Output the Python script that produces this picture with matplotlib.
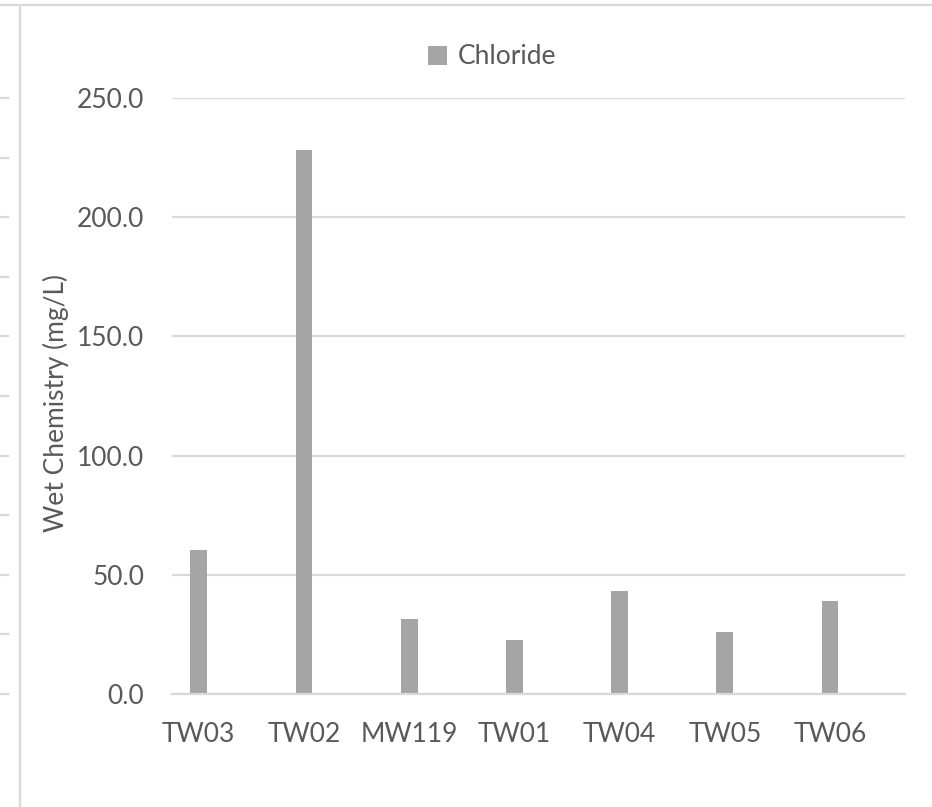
import matplotlib
matplotlib.use("Agg")
import matplotlib.pyplot as plt
from matplotlib.lines import Line2D

# Data
categories = ["TW03", "TW02", "MW119", "TW01", "TW04", "TW05", "TW06"]
chloride = [60.3, 228.1, 31.3, 22.7, 43.1, 25.9, 38.9]
yticks = [0, 50, 100, 150, 200, 250]
series_name = "Chloride"
ylabel = "Wet Chemistry (mg/L)"

plt.rcParams['font.family'] = ['Lato', 'DejaVu Sans']
text_color = "#595959"
grid_color = "#d9d9d9"
bar_color = "#a5a5a5"
fs = 19

W, H = 932, 807
fig = plt.figure(figsize=(W / 100, H / 100), dpi=100)
fig.patch.set_facecolor("white")

left, right, bottom, top = 172 / W, 905 / W, 1 - 694 / H, 1 - 98 / H
ax = fig.add_axes([left, bottom, right - left, top - bottom])

x = list(range(len(categories)))
ax.bar(x, chloride, width=0.16, color=bar_color, label=series_name, zorder=3)

ax.set_xlim(-0.254, len(categories) - 1 + 0.713)
ax.set_ylim(0, 250)
ax.set_yticks(yticks)
ax.set_yticklabels([f"{v:.1f}" for v in yticks])
ax.set_xticks(x)
ax.set_xticklabels(categories)

ax.grid(axis="y", color=grid_color, linewidth=1.6, zorder=0)
ax.set_axisbelow(True)
for s in ["top", "right", "left"]:
    ax.spines[s].set_visible(False)
ax.spines["bottom"].set_color(grid_color)
ax.spines["bottom"].set_linewidth(1.6)
ax.spines["bottom"].set_zorder(4)

ax.tick_params(axis="both", length=0, labelsize=fs, labelcolor=text_color)
ax.tick_params(axis="y", pad=20)
ax.tick_params(axis="x", pad=20)

fig.text(56 / W, 1 - 403 / H, ylabel, rotation=90, ha="center", va="center",
         fontsize=fs, color=text_color)

leg = fig.legend(loc="center", bbox_to_anchor=(492 / W, 1 - 57 / H),
                 frameon=False, fontsize=fs, labelcolor=text_color,
                 handlelength=0.75, handleheight=0.75, handletextpad=0.4)

# Chart frame remnants (borders of the embedding sheet)
fig.add_artist(Line2D([0, 1], [1 - 5 / H, 1 - 5 / H], transform=fig.transFigure,
                      color=grid_color, linewidth=1.6))
fig.add_artist(Line2D([20 / W, 20 / W], [0, 1 - 5 / H], transform=fig.transFigure,
                      color=grid_color, linewidth=1.6))
for k in range(11):
    yy = 1 - (98 + k * 59.6) / H
    fig.add_artist(Line2D([0, 8 / W], [yy, yy], transform=fig.transFigure,
                          color=grid_color, linewidth=1.6))

fig.savefig("out.png", dpi=100, facecolor="white")
